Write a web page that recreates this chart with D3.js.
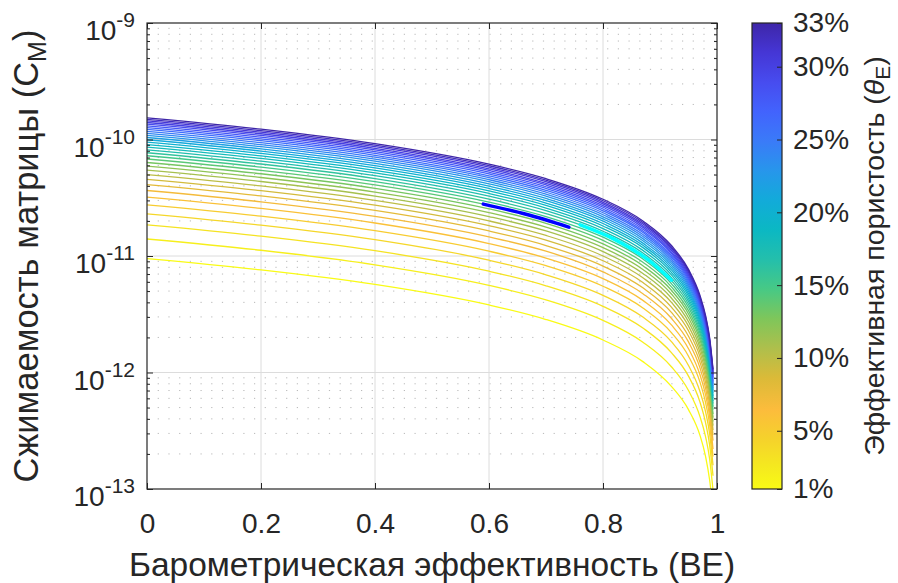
<!DOCTYPE html>
<html>
<head>
<meta charset="utf-8">
<script src="https://cdn.jsdelivr.net/npm/d3@7"></script>
<style>
  body { margin: 0; background: #fff; }
  svg text { font-family: "Liberation Sans", Arial, Helvetica, sans-serif; fill: #262626; }
</style>
</head>
<body>
<div id="chart"></div>
<script>
// ---- DATA ----

// barometric efficiency values where each curve was read
const beValues = [0, 0.2, 0.4, 0.6, 0.7, 0.8, 0.87, 0.92, 0.95, 0.97, 0.98, 0.987, 0.993];

// effective porosity of every curve, in %
const porosity = [1, 2, 3, 4, 5, 6, 7, 8, 9, 10, 11, 12, 13, 14, 15, 16, 17,
                  18, 19, 20, 21, 22, 23, 24, 25, 26, 27, 28, 29, 30, 31, 32, 33];

// matrix compressibility, units of 1e-12, one row per porosity, one column per beValues
const cmValues = [
  [9.5, 7.6, 5.7, 3.8, 2.85, 1.9, 1.24, 0.76, 0.48, 0.29, 0.19, 0.12, 0.067],
  [14, 11.2, 8.4, 5.6, 4.2, 2.8, 1.82, 1.12, 0.7, 0.42, 0.28, 0.182, 0.098],
  [18.5, 14.8, 11.1, 7.4, 5.55, 3.7, 2.41, 1.48, 0.93, 0.56, 0.37, 0.24, 0.13],
  [23, 18.4, 13.8, 9.2, 6.9, 4.6, 2.99, 1.84, 1.15, 0.69, 0.46, 0.3, 0.16],
  [27.5, 22, 16.5, 11, 8.25, 5.5, 3.58, 2.2, 1.38, 0.83, 0.55, 0.36, 0.19],
  [32, 25.6, 19.2, 12.8, 9.6, 6.4, 4.16, 2.56, 1.6, 0.96, 0.64, 0.42, 0.22],
  [36.5, 29.2, 21.9, 14.6, 11, 7.3, 4.75, 2.92, 1.83, 1.1, 0.73, 0.47, 0.26],
  [41, 32.8, 24.6, 16.4, 12.3, 8.2, 5.33, 3.28, 2.05, 1.23, 0.82, 0.53, 0.29],
  [45.5, 36.4, 27.3, 18.2, 13.7, 9.1, 5.92, 3.64, 2.28, 1.37, 0.91, 0.59, 0.32],
  [50, 40, 30, 20, 15, 10, 6.5, 4, 2.5, 1.5, 1, 0.65, 0.35],
  [54.5, 43.6, 32.7, 21.8, 16.4, 10.9, 7.09, 4.36, 2.73, 1.64, 1.09, 0.71, 0.38],
  [59, 47.2, 35.4, 23.6, 17.7, 11.8, 7.67, 4.72, 2.95, 1.77, 1.18, 0.77, 0.41],
  [63.5, 50.8, 38.1, 25.4, 19.1, 12.7, 8.26, 5.08, 3.18, 1.91, 1.27, 0.83, 0.44],
  [68, 54.4, 40.8, 27.2, 20.4, 13.6, 8.84, 5.44, 3.4, 2.04, 1.36, 0.88, 0.48],
  [72.5, 58, 43.5, 29, 21.8, 14.5, 9.43, 5.8, 3.63, 2.18, 1.45, 0.94, 0.51],
  [77, 61.6, 46.2, 30.8, 23.1, 15.4, 10, 6.16, 3.85, 2.31, 1.54, 1.0, 0.54],
  [81.5, 65.2, 48.9, 32.6, 24.5, 16.3, 10.6, 6.52, 4.08, 2.45, 1.63, 1.06, 0.57],
  [86, 68.8, 51.6, 34.4, 25.8, 17.2, 11.18, 6.88, 4.3, 2.58, 1.72, 1.12, 0.6],
  [90.5, 72.4, 54.3, 36.2, 27.2, 18.1, 11.8, 7.24, 4.53, 2.72, 1.81, 1.18, 0.63],
  [95, 76, 57, 38, 28.5, 19, 12.35, 7.6, 4.75, 2.85, 1.9, 1.24, 0.67],
  [99.5, 79.6, 59.7, 39.8, 29.9, 19.9, 12.9, 7.96, 4.98, 2.99, 1.99, 1.29, 0.7],
  [104, 83.2, 62.4, 41.6, 31.2, 20.8, 13.5, 8.32, 5.2, 3.12, 2.08, 1.35, 0.73],
  [108.5, 86.8, 65.1, 43.4, 32.6, 21.7, 14.1, 8.68, 5.43, 3.26, 2.17, 1.41, 0.76],
  [113, 90.4, 67.8, 45.2, 33.9, 22.6, 14.7, 9.04, 5.65, 3.39, 2.26, 1.47, 0.79],
  [117.5, 94, 70.5, 47, 35.3, 23.5, 15.3, 9.4, 5.88, 3.53, 2.35, 1.53, 0.82],
  [122, 97.6, 73.2, 48.8, 36.6, 24.4, 15.9, 9.76, 6.1, 3.66, 2.44, 1.59, 0.85],
  [126.5, 101.2, 75.9, 50.6, 38, 25.3, 16.4, 10.1, 6.33, 3.8, 2.53, 1.64, 0.89],
  [131, 104.8, 78.6, 52.4, 39.3, 26.2, 17, 10.5, 6.55, 3.93, 2.62, 1.7, 0.92],
  [135.5, 108.4, 81.3, 54.2, 40.7, 27.1, 17.6, 10.8, 6.78, 4.07, 2.71, 1.76, 0.95],
  [140, 112, 84, 56, 42, 28, 18.2, 11.2, 7, 4.2, 2.8, 1.82, 0.98],
  [144.5, 115.6, 86.7, 57.8, 43.4, 28.9, 18.8, 11.6, 7.23, 4.34, 2.89, 1.88, 1.01],
  [149, 119.2, 89.4, 59.6, 44.7, 29.8, 19.4, 11.9, 7.45, 4.47, 2.98, 1.94, 1.04],
  [153.5, 122.8, 92.1, 61.4, 46.1, 30.7, 20, 12.3, 7.68, 4.61, 3.07, 2.0, 1.07]
];

// highlighted segments (units 1e-12)
const blueSegBE = [0.59, 0.665, 0.74];
const blueSegCM = [27.9, 22.8, 17.7];
const cyanSegBE = [0.76, 0.82, 0.88, 0.92];
const cyanSegCM = [18.5, 13.9, 9.2, 6.2];

// ticks
const xTicks = [0, 0.2, 0.4, 0.6, 0.8, 1];
const yTickExp = [-13, -12, -11, -10, -9];
const cbTicks = [1, 5, 10, 15, 20, 25, 30, 33];

// parula colormap stops (t = 0 dark blue ... 1 yellow)
const parulaT = [0, 0.063, 0.127, 0.19, 0.254, 0.317, 0.381, 0.444, 0.508, 0.571,
                 0.635, 0.698, 0.762, 0.83, 0.89, 0.952, 1];
const parulaC = ["#3e26a8", "#4536d5", "#474cef", "#4263fd", "#3a7bf8", "#2796eb",
                 "#12abd9", "#0bb8c3", "#24bfab", "#47c985", "#7fc65a", "#aebf4c",
                 "#dbba38", "#fcbc3c", "#f5d12c", "#f5e91f", "#f9fb15"];

// ---- LAYOUT ----
var margin = {top: 23, left: 147},
    width = 570,
    height = 466;

var svg = d3.select("#chart")
  .append("svg")
  .attr("width", 898)
  .attr("height", 583);

var g = svg.append("g")
  .attr("transform", "translate(" + margin.left + "," + margin.top + ")");

// scales
var x = d3.scaleLinear().domain([0, 1]).range([0, width]);
var y = d3.scaleLog().domain([1e-13, 1e-9]).range([height, 0]);

var parula = d3.scaleLinear().domain(parulaT).range(parulaC).interpolate(d3.interpolateRgb);
var colorOf = function(p) { return parula((33 - p) / 32); };

// ---- GRID ----
var minorY = y.ticks().filter(function(v) {
  var e = Math.log10(v);
  return Math.abs(e - Math.round(e)) > 1e-6;
});

g.append("g").selectAll("line")
  .data(minorY)
  .enter().append("line")
    .attr("x1", 0).attr("x2", width)
    .attr("y1", function(d) { return y(d); })
    .attr("y2", function(d) { return y(d); })
    .attr("stroke", "#b8b8b8")
    .attr("stroke-width", 1)
    .attr("stroke-dasharray", "1.2,9.5");

g.append("g").selectAll("line")
  .data(yTickExp.slice(1, -1))
  .enter().append("line")
    .attr("x1", 0).attr("x2", width)
    .attr("y1", function(d) { return y(Math.pow(10, d)); })
    .attr("y2", function(d) { return y(Math.pow(10, d)); })
    .attr("stroke", "#dcdcdc")
    .attr("stroke-width", 1);

g.append("g").selectAll("line")
  .data(xTicks.slice(1, -1))
  .enter().append("line")
    .attr("x1", function(d) { return x(d); })
    .attr("x2", function(d) { return x(d); })
    .attr("y1", 0).attr("y2", height)
    .attr("stroke", "#dcdcdc")
    .attr("stroke-width", 1);

// ---- CURVES ----
g.append("clipPath").attr("id", "clip")
  .append("rect").attr("width", width).attr("height", height);

var line = d3.line()
  .x(function(d) { return x(d[0]); })
  .y(function(d) { return y(d[1] * 1e-12); })
  .curve(d3.curveMonotoneX);

var plot = g.append("g").attr("clip-path", "url(#clip)");

plot.selectAll("path.curve")
  .data(porosity)
  .enter().append("path")
    .attr("class", "curve")
    .attr("fill", "none")
    .attr("stroke", function(p) { return colorOf(p); })
    .attr("stroke-width", 1.3)
    .attr("d", function(p, i) {
      return line(beValues.map(function(b, j) { return [b, cmValues[i][j]]; }));
    });

// highlighted pieces
plot.append("path")
  .attr("fill", "none")
  .attr("stroke", "#0000ff")
  .attr("stroke-width", 3.5)
  .attr("stroke-linecap", "round")
  .attr("d", line(blueSegBE.map(function(b, j) { return [b, blueSegCM[j]]; })));

plot.append("path")
  .attr("fill", "none")
  .attr("stroke", "#00ffff")
  .attr("stroke-width", 3.5)
  .attr("stroke-linecap", "round")
  .attr("d", line(cyanSegBE.map(function(b, j) { return [b, cyanSegCM[j]]; })));

// ---- AXES ----
function styleAxis(sel) {
  sel.select(".domain").remove();
  sel.selectAll(".tick line").attr("stroke", "#262626");
}

g.append("g")
  .attr("transform", "translate(0," + height + ")")
  .call(d3.axisBottom(x).tickValues(xTicks).tickSizeInner(-6).tickSizeOuter(0)
        .tickPadding(24).tickFormat(function(d) { return d; }))
  .call(styleAxis)
  .selectAll("text")
    .attr("font-size", 28)
    .attr("font-family", "Liberation Sans, Arial, sans-serif")
    .attr("fill", "#262626");

g.append("g")
  .call(d3.axisTop(x).tickValues(xTicks).tickSizeInner(-6).tickSizeOuter(0).tickFormat(""))
  .call(styleAxis);

var majorY = yTickExp.map(function(e) { return Math.pow(10, e); });

g.append("g")
  .call(d3.axisLeft(y).tickValues(majorY).tickSizeInner(-6).tickSizeOuter(0).tickFormat(""))
  .call(styleAxis);
g.append("g")
  .call(d3.axisLeft(y).tickValues(minorY).tickSizeInner(-3).tickSizeOuter(0).tickFormat(""))
  .call(styleAxis);
g.append("g")
  .attr("transform", "translate(" + width + ",0)")
  .call(d3.axisRight(y).tickValues(majorY).tickSizeInner(-6).tickSizeOuter(0).tickFormat(""))
  .call(styleAxis);
g.append("g")
  .attr("transform", "translate(" + width + ",0)")
  .call(d3.axisRight(y).tickValues(minorY).tickSizeInner(-3).tickSizeOuter(0).tickFormat(""))
  .call(styleAxis);

// y tick labels as 10^e
yTickExp.forEach(function(e) {
  var t = g.append("text")
    .attr("x", -12)
    .attr("y", y(Math.pow(10, e)))
    .attr("text-anchor", "end");
  t.append("tspan").attr("font-size", 28).attr("dy", 17).text("10");
  t.append("tspan").attr("font-size", 21).attr("dy", -13).text(e);
});

// box
g.append("rect")
  .attr("width", width)
  .attr("height", height)
  .attr("fill", "none")
  .attr("stroke", "#262626")
  .attr("stroke-width", 1.2);

// axis titles
svg.append("text")
  .attr("x", margin.left + width / 2)
  .attr("y", 576)
  .attr("text-anchor", "middle")
  .attr("font-size", 33.5)
  .text("Барометрическая эффективность (BE)");

var yl = svg.append("text")
  .attr("transform", "translate(38," + (margin.top + height / 2) + ") rotate(-90)")
  .attr("text-anchor", "middle")
  .attr("font-size", 34.5);
yl.append("tspan").text("Сжимаемость матрицы (C");
yl.append("tspan").attr("font-size", 25).attr("dy", 8).text("M");
yl.append("tspan").attr("dy", -8).text(")");

// ---- COLORBAR ----
var cb = {x: 752, w: 30};
var cbScale = d3.scaleLinear().domain([1, 33]).range([margin.top + height, margin.top]);

// gradient runs top (t = 0, 33%) to bottom (t = 1, 1%)
var grad = svg.append("defs").append("linearGradient")
  .attr("id", "parula")
  .attr("x1", 0).attr("y1", 0).attr("x2", 0).attr("y2", 1);
grad.selectAll("stop")
  .data(parulaT)
  .enter().append("stop")
    .attr("offset", function(t) { return t; })
    .attr("stop-color", function(t, i) { return parulaC[i]; });

svg.append("rect")
  .attr("x", cb.x)
  .attr("y", margin.top)
  .attr("width", cb.w)
  .attr("height", height)
  .attr("fill", "url(#parula)")
  .attr("stroke", "#262626")
  .attr("stroke-width", 1.2);

svg.append("g")
  .attr("transform", "translate(" + (cb.x + cb.w) + ",0)")
  .call(d3.axisRight(cbScale).tickValues(cbTicks).tickSizeInner(-5).tickSizeOuter(0)
        .tickPadding(11).tickFormat(function(d) { return d + "%"; }))
  .call(styleAxis)
  .selectAll("text")
    .attr("font-size", 28)
    .attr("font-family", "Liberation Sans, Arial, sans-serif")
    .attr("fill", "#262626");

var cl = svg.append("text")
  .attr("transform", "translate(884," + (margin.top + height / 2) + ") rotate(-90)")
  .attr("text-anchor", "middle")
  .attr("font-size", 28.5);
cl.append("tspan").text("Эффективная пористость (");
cl.append("tspan").attr("font-style", "italic").text("θ");
cl.append("tspan").attr("font-size", 21).attr("dy", 6).text("E");
cl.append("tspan").attr("dy", -6).text(")");
</script>
</body>
</html>
